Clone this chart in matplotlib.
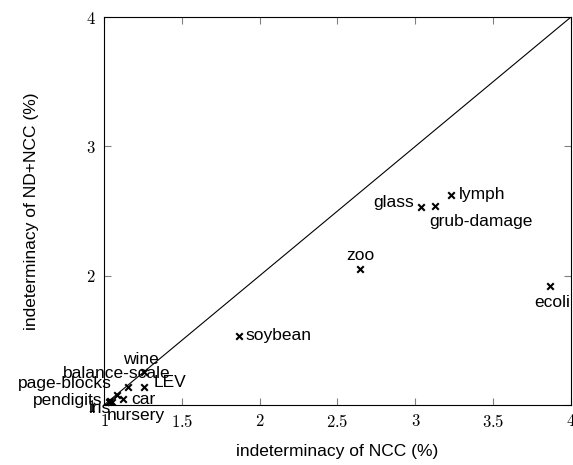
import matplotlib
matplotlib.use('Agg')
import matplotlib.pyplot as plt
from matplotlib.ticker import FuncFormatter

plt.rcParams['font.family'] = ['Liberation Sans', 'DejaVu Sans']
plt.rcParams['mathtext.fontset'] = 'cm'

# datasets: indeterminacy (%) of NCC vs ND+NCC
names = ['soybean', 'zoo', 'glass', 'grub-damage', 'lymph', 'ecoli',
         'wine', 'LEV', 'balance-scale', 'page-blocks', 'car',
         'pendigits', 'iris', 'nursery']
ncc = [1.867, 2.644, 3.036, 3.128, 3.227, 3.865,
       1.258, 1.258, 1.156, 1.082, 1.124,
       1.040, 1.030, 1.050]
nd_ncc = [1.534, 2.052, 2.533, 2.541, 2.624, 1.920,
          1.252, 1.142, 1.142, 1.077, 1.044,
          1.030, 1.020, 1.020]

# label placement (pixels from the marker, alignment)
offsets = {
    'soybean': (7, 0, 'left'),
    'zoo': (0, 13, 'center'),
    'glass': (-7, 4, 'right'),
    'grub-damage': (-6, -16, 'left'),
    'lymph': (8, 0, 'left'),
    'ecoli': (2, -16, 'center'),
    'wine': (-3, 13, 'center'),
    'LEV': (9, 4, 'left'),
    'balance-scale': (-12, 13, 'center'),
    'page-blocks': (-5, 12, 'right'),
    'car': (8, 0, 'left'),
    'pendigits': (-8, 1, 'right'),
    'iris': (-9, -6, 'center'),
    'nursery': (-5, -13, 'left'),
}

fig = plt.figure(figsize=(5.73, 4.65), dpi=100)
ax = fig.add_axes([0.1815, 0.129, 0.815, 0.8344])

ax.plot([1, 4], [1, 4], color='black', linewidth=0.8)
ax.scatter(ncc, nd_ncc, marker='x', color='black', s=22, linewidths=1.5, zorder=3)

for n, x, y in zip(names, ncc, nd_ncc):
    dx, dy, ha = offsets[n]
    ax.annotate(n, (x, y), xytext=(dx, dy), textcoords='offset pixels',
                ha=ha, va='center', fontsize=12.5)

ax.set_xlim(1, 4)
ax.set_ylim(1, 4)
ax.set_xticks([1, 1.5, 2, 2.5, 3, 3.5, 4])
ax.set_yticks([1, 2, 3, 4])
fmt = FuncFormatter(lambda v, p: '$%g$' % v)
ax.xaxis.set_major_formatter(fmt)
ax.yaxis.set_major_formatter(fmt)
ax.tick_params(direction='in', color='gray', length=5, width=0.8,
               top=True, right=True, labelsize=12, pad=6)
for s in ax.spines.values():
    s.set_linewidth(0.8)

ax.set_xlabel('indeterminacy of NCC (%)', fontsize=12.5, labelpad=10)
ax.set_ylabel('indeterminacy of ND+NCC (%)', fontsize=12.5, labelpad=34)

fig.savefig('out.png', dpi=100)
